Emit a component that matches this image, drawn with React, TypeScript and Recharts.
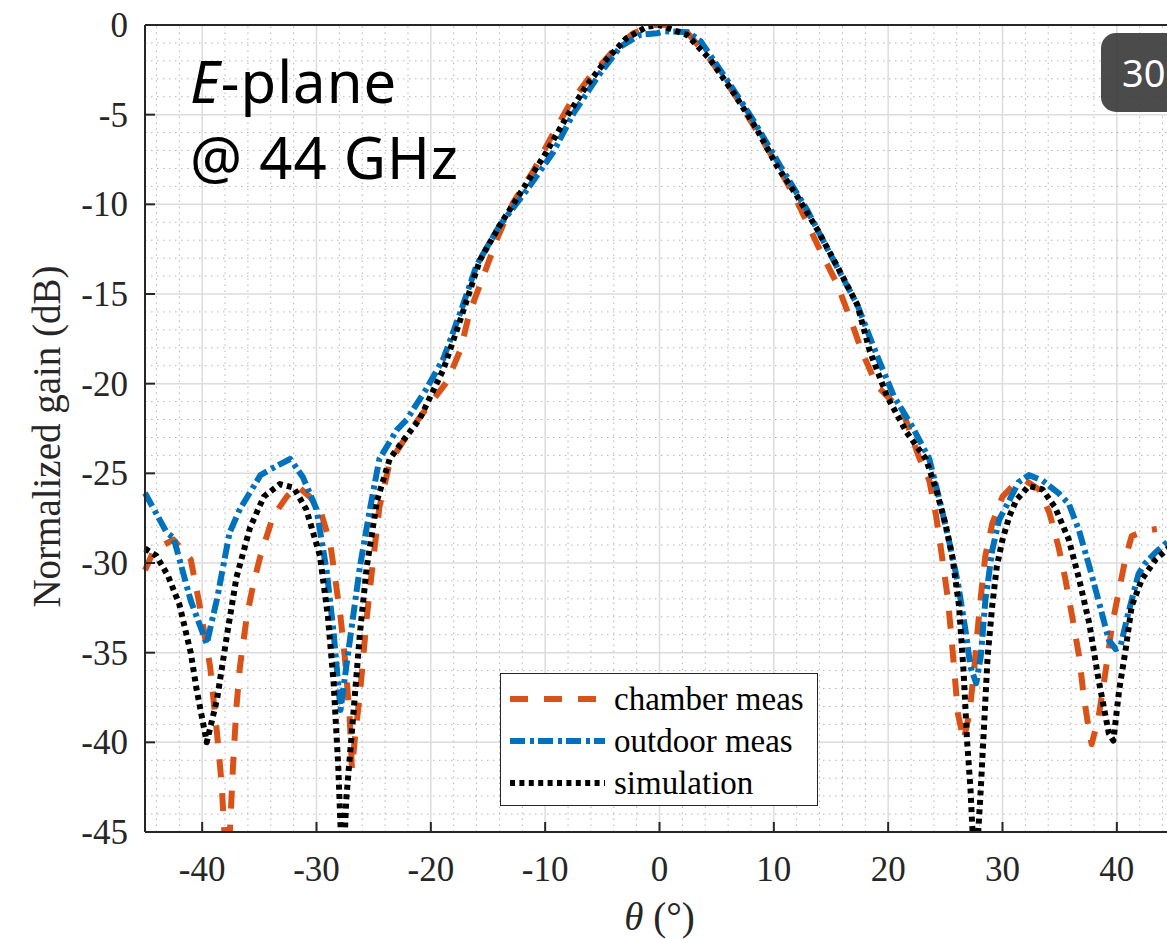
import React from 'react'
import {
  LineChart, Line, XAxis, YAxis, CartesianGrid, ReferenceLine, Legend, Label,
} from 'recharts'

// θ in degrees, gain in dB
const chamberTheta = [-45, -44.3, -43.4, -42.5, -41, -40.3, -39.3, -38.7, -38.3, -37.8, -37.3, -37, -36.7, -36.1, -35.5, -34.9, -33.8, -32.6, -31.7, -30.6, -29.7, -28.8, -27.9, -27.5, -27.1, -26.9, -26.6, -26.2, -25.6, -25, -24.5, -23.6, -22.1, -21, -20.4, -18.6, -17.4, -16.6, -15.4, -14.2, -12.8, -11, -9.6, -7.8, -6.1, -4, -2.3, -0.5, 0.5, 2.4, 4.4, 6.5, 8.5, 10.3, 12, 14, 15.5, 16.7, 17.7, 19, 21.3, 22.7, 23.6, 24.2, 24.7, 25.2, 25.5, 25.8, 26.1, 26.6, 27.1, 27.5, 27.8, 28.1, 28.5, 29.1, 30, 30.9, 32, 33.2, 34.1, 34.9, 35.5, 36.1, 36.7, 37.1, 37.6, 37.8, 38.4, 39, 39.6, 40.2, 40.8, 41.3, 42.5, 43.5]
const chamberGain = [-30.4, -29.4, -29.0, -28.7, -29.8, -32.1, -35.8, -39.5, -42.3, -48, -41.3, -38.0, -35.8, -33.0, -31.1, -29.6, -27.4, -26.3, -25.7, -26.3, -27.0, -28.9, -33.0, -35.4, -38.6, -41.5, -39.5, -37.3, -33.0, -29.6, -26.9, -24.4, -22.9, -21.9, -21.4, -19.9, -18.1, -16.0, -14.0, -11.9, -9.9, -8.1, -6.4, -4.35, -2.9, -1.4, -0.46, 0, 0, -0.4, -1.9, -3.8, -5.9, -7.8, -9.8, -12.5, -14.4, -16.4, -18.2, -20.1, -21.6, -24.1, -25.4, -27.4, -29.6, -31.9, -33.9, -36.1, -38.4, -39.9, -38.4, -36.1, -33.9, -31.9, -29.6, -27.8, -26.3, -25.7, -25.4, -25.9, -27.2, -29.1, -30.9, -33.0, -35.2, -37.4, -39.5, -40.1, -38.6, -36.1, -33.4, -31.5, -29.6, -28.5, -28.2, -28.1]

const outdoorTheta = [-45, -43.1, -42.5, -41, -39.6, -38.7, -37.6, -36.7, -34.9, -33.8, -32.3, -31.2, -30, -29.1, -28.5, -27.9, -27.4, -26.8, -26.2, -25.3, -24.5, -23, -22.1, -20.4, -18.9, -17.4, -16, -14, -11.6, -9.3, -7.5, -5.2, -3.4, -1.7, -0.2, 0.5, 2.5, 3.6, 5.9, 8.2, 10.6, 12.9, 15.2, 17.3, 19, 20.5, 22.2, 23.6, 24.5, 25.3, 26.1, 26.8, 27.2, 27.7, 28.1, 28.5, 29.1, 29.7, 30.6, 31.4, 32.3, 33.5, 34.9, 35.8, 36.7, 37.6, 38.4, 39.3, 39.9, 40.3, 41, 41.9, 42.5, 43.4, 44.3, 45]
const outdoorGain = [-26.1, -28.3, -28.6, -32.1, -34.5, -32.0, -28.3, -27.0, -25.1, -24.7, -24.2, -25.2, -27.0, -30.5, -33.9, -38.2, -35.8, -33.0, -30.2, -26.9, -24.2, -22.6, -22.0, -20.3, -18.6, -16.0, -13.4, -11.2, -9.2, -7.1, -4.9, -2.7, -1.2, -0.55, -0.46, -0.35, -0.4, -0.9, -3.06, -5.3, -7.9, -10.3, -13.1, -15.6, -18.4, -20.7, -22.5, -24.2, -26.5, -28.7, -31.1, -33.9, -35.8, -36.7, -35.2, -32.1, -29.3, -27.6, -26.5, -25.5, -25.1, -25.4, -26.1, -26.7, -28.2, -30.2, -32.1, -34.3, -34.8, -34.7, -32.8, -30.6, -30.0, -29.4, -28.9, -28.6]

const simTheta = [-45, -44, -43, -42, -41, -40.5, -39.6, -38.7, -37.8, -37, -35.8, -34.6, -33.2, -32, -30.9, -29.7, -29, -28.5, -28.1, -27.7, -27.4, -26.8, -26.2, -25.6, -24.7, -23.6, -22.1, -21, -18.9, -17.4, -15.7, -14, -11.6, -9.9, -8.1, -6.4, -4.6, -2.9, -1.1, 0, 2.4, 4.4, 6.5, 8.5, 10.3, 12, 13.8, 15.5, 17.3, 18.4, 19.9, 21.6, 23.3, 24.2, 25, 25.6, 26.2, 26.6, 26.9, 27.2, 27.6, 28.1, 28.4, 28.7, 29.1, 29.5, 30, 30.6, 31.2, 32.3, 33.5, 34.6, 35.8, 36.7, 37.6, 38.4, 39.3, 39.7, 40.2, 40.8, 41.3, 42.2, 43.4, 44.3, 45]
const simGain = [-29.2, -29.6, -30.7, -32.3, -35.0, -37.0, -40.0, -37.6, -33.9, -30.8, -28.0, -26.3, -25.6, -25.8, -27.0, -29.6, -33.0, -36.7, -41.3, -48, -43.2, -38.6, -33.9, -30.2, -26.5, -24.2, -22.9, -22.0, -19.2, -16.4, -13.1, -11.2, -8.8, -7.1, -5.1, -3.4, -1.9, -0.74, -0.1, 0, -0.55, -1.9, -3.8, -5.8, -7.9, -9.5, -11.4, -13.4, -15.6, -18.2, -20.7, -22.7, -24.2, -25.9, -27.8, -29.6, -32.4, -36.1, -39.9, -42.6, -48, -42.6, -38.9, -35.2, -32.4, -30.2, -28.7, -27.4, -26.5, -25.7, -25.9, -26.9, -28.7, -30.9, -33.4, -36.5, -39.5, -39.9, -37.1, -34.7, -32.4, -30.9, -29.8, -29.3, -28.9]

const xTicks = [-40, -30, -20, -10, 0, 10, 20, 30, 40]
const yTicks = [-45, -40, -35, -30, -25, -20, -15, -10, -5, 0]
const xMinor = [-44, -42, -38, -36, -34, -32, -28, -26, -24, -22, -18, -16, -14, -12, -8, -6, -4, -2, 2, 4, 6, 8, 12, 14, 16, 18, 22, 24, 26, 28, 32, 34, 36, 38, 42, 44]
const yMinor = [-44, -43, -42, -41, -39, -38, -37, -36, -34, -33, -32, -31, -29, -28, -27, -26, -24, -23, -22, -21, -19, -18, -17, -16, -14, -13, -12, -11, -9, -8, -7, -6, -4, -3, -2, -1]

const zip = (t: number[], g: number[]) => t.map((theta, i) => ({ theta, gain: g[i] }))
const chamber = zip(chamberTheta, chamberGain)
const outdoor = zip(outdoorTheta, outdoorGain)
const simulation = zip(simTheta, simGain)

const series = [
  { name: 'chamber meas', data: chamber, color: '#D95319', dash: '18 16' },
  { name: 'outdoor meas', data: outdoor, color: '#0072BD', dash: '15 5 4 4' },
  { name: 'simulation', data: simulation, color: '#000000', dash: '5 4.4' },
]

const AXIS = '#262626'
const SERIF = '"Liberation Serif", "Times New Roman", serif'
const FS = 35
const LABEL_FS = 39
const LW = 6

const BottomTick = (p: any) => (
  <g>
    <line x1={p.x} x2={p.x} y1={p.y} y2={p.y - 10} stroke={AXIS} strokeWidth={2} />
    <text x={p.x} y={p.y + 49} textAnchor="middle" fontFamily={SERIF} fontSize={FS} fill={AXIS}>{p.payload.value}</text>
  </g>
)
const TopTick = (p: any) => <line x1={p.x} x2={p.x} y1={p.y} y2={p.y + 10} stroke={AXIS} strokeWidth={2} />
const LeftTick = (p: any) => (
  <g>
    <line x1={p.x} x2={p.x + 10} y1={p.y} y2={p.y} stroke={AXIS} strokeWidth={2} />
    <text x={p.x - 17} y={p.y + 12} textAnchor="end" fontFamily={SERIF} fontSize={FS} fill={AXIS}>{p.payload.value}</text>
  </g>
)
const RightTick = (p: any) => <line x1={p.x} x2={p.x - 10} y1={p.y} y2={p.y} stroke={AXIS} strokeWidth={2} />

const LegendBox = () => (
  <div style={{
    width: 318, height: 133, boxSizing: 'border-box', background: '#fff',
    border: `1.5px solid ${AXIS}`, paddingTop: 4,
  }}>
    {series.map(s => (
      <div key={s.name} style={{ display: 'flex', alignItems: 'center', height: 42 }}>
        <svg width={113} height={20} style={{ flex: 'none' }}>
          <line x1={9} x2={104} y1={10} y2={10} stroke={s.color} strokeWidth={LW} strokeDasharray={s.dash} />
        </svg>
        <span style={{ fontFamily: SERIF, fontSize: 33, color: '#000', lineHeight: 1 }}>{s.name}</span>
      </div>
    ))}
  </div>
)

export default function App() {
  return (
    <div style={{ position: 'absolute', left: 0, top: 0, width: 1167, height: 939, overflow: 'hidden', background: '#fff' }}>
      <LineChart width={1200} height={939} margin={{ top: 24, right: 25, bottom: 106, left: 144 }}>
        <CartesianGrid stroke="#dcdcdc" strokeWidth={1.5} />
        {xMinor.map(v => (
          <ReferenceLine key={`x${v}`} x={v} stroke="#b4b4b4" strokeWidth={1} strokeDasharray="1.5 4.5" />
        ))}
        {yMinor.map(v => (
          <ReferenceLine key={`y${v}`} y={v} stroke="#b4b4b4" strokeWidth={1} strokeDasharray="1.5 4.5" />
        ))}
        <XAxis dataKey="theta" type="number" domain={[-45, 45]} ticks={xTicks} height={1}
          tickSize={0} tickMargin={0} tick={BottomTick} tickLine={false}
          axisLine={{ stroke: AXIS, strokeWidth: 2 }}>
          <Label content={({ viewBox }: any) => (
            <text x={viewBox.x + viewBox.width / 2} y={930} textAnchor="middle" fontFamily={SERIF} fontSize={LABEL_FS} fill={AXIS}>
              <tspan fontStyle="italic">θ</tspan> (°)
            </text>
          )} />
        </XAxis>
        <XAxis xAxisId="top" orientation="top" type="number" domain={[-45, 45]} ticks={xTicks} height={1}
          tickSize={0} tickMargin={0} tick={TopTick} tickLine={false}
          axisLine={{ stroke: AXIS, strokeWidth: 2 }} />
        <YAxis type="number" domain={[-45, 0]} ticks={yTicks} width={1} allowDataOverflow
          tickSize={0} tickMargin={0} tick={LeftTick} tickLine={false}
          axisLine={{ stroke: AXIS, strokeWidth: 2 }}>
          <Label content={({ viewBox }: any) => {
            const cx = 60
            const cy = viewBox.y + viewBox.height / 2 + 8
            return (
              <text x={cx} y={cy} transform={`rotate(-90 ${cx} ${cy})`} textAnchor="middle"
                fontFamily={SERIF} fontSize={LABEL_FS} fill={AXIS}>Normalized gain (dB)</text>
            )
          }} />
        </YAxis>
        <YAxis yAxisId="right" orientation="right" type="number" domain={[-45, 0]} ticks={yTicks} width={1}
          tickSize={0} tickMargin={0} tick={RightTick} tickLine={false}
          axisLine={{ stroke: AXIS, strokeWidth: 2 }} />
        {series.map(s => (
          <Line key={s.name} data={s.data} dataKey="gain" name={s.name} type="linear"
            stroke={s.color} strokeWidth={LW} strokeDasharray={s.dash} strokeLinejoin="round"
            dot={false} activeDot={false} isAnimationActive={false} />
        ))}
        <Legend verticalAlign="middle" align="center" content={<LegendBox />}
          wrapperStyle={{ left: 500, top: 673, width: 318, height: 133 }} />
      </LineChart>

      <div style={{ position: 'absolute', left: 190, top: 43, fontFamily: '"Noto Sans", sans-serif', fontSize: 58, lineHeight: '76px', color: '#000', letterSpacing: 1 }}>
        <div><i>E</i>-plane</div>
        <div>@ 44 GHz</div>
      </div>

      <div style={{
        position: 'absolute', left: 1101, top: 33, width: 110, height: 79, borderRadius: 15,
        background: 'rgba(55,55,55,0.9)', color: '#fff', fontFamily: '"Noto Sans", sans-serif',
        fontSize: 38, lineHeight: '79px', paddingLeft: 21, boxSizing: 'border-box',
      }}>30</div>
    </div>
  )
}
